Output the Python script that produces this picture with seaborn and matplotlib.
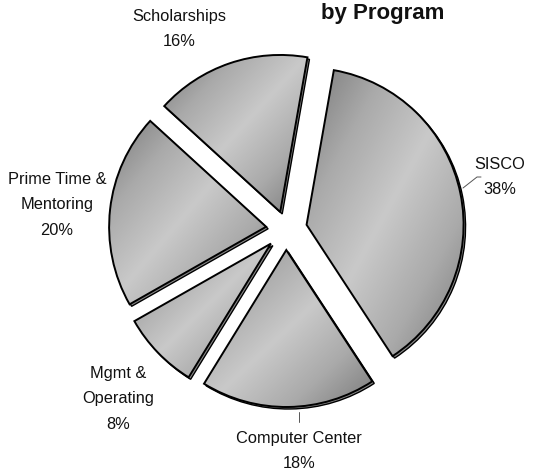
import matplotlib
matplotlib.use("Agg")
import matplotlib.pyplot as plt
import numpy as np
import seaborn as sns

programs = ["SISCO", "Computer Center", "Mgmt & Operating", "Prime Time & Mentoring", "Scholarships"]
shares = [38, 18, 8, 20, 16]

WIDTH, HEIGHT = 539, 473
CENTER = (286, HEIGHT - 229)
RADIUS = 157
# pie() adds explode to the centre as is, so these are in data units (pixels here)
EXPLODE = [21, 21, 21, 20, 18]

sns.set_theme(style="white")
plt.rcParams["font.family"] = ["Liberation Sans", "DejaVu Sans"]

fig = plt.figure(figsize=(WIDTH / 100, HEIGHT / 100), dpi=100)
ax = fig.add_axes([0, 0, 1, 1])

shade = sns.blend_palette(["#7a7a7a", "#aaaaaa", "#c9c9c9", "#aaaaaa", "#7a7a7a"],
                          n_colors=256, as_cmap=True)


def draw_pie(center, **wedge_args):
    wedges, _ = ax.pie(
        shares,
        explode=EXPLODE,
        radius=RADIUS,
        center=center,
        startangle=80,
        counterclock=False,
        frame=True,
        wedgeprops=wedge_args,
    )
    return wedges


# drop shadow, shows as a thin double line on the lower right
draw_pie((CENTER[0] + 2, CENTER[1] - 2), facecolor="#8a8a8a", edgecolor="black", linewidth=1.0, zorder=1)
wedges = draw_pie(CENTER, facecolor="none", edgecolor="black", linewidth=1.4, zorder=3)

# dark-light-dark diagonal fill, clipped to each slice
u, v = np.meshgrid(np.linspace(0, 1, 200), np.linspace(0, 1, 200))
ramp = (u + (1 - v)) / 2
for wedge in wedges:
    box = wedge.get_path().get_extents()
    im = ax.imshow(
        ramp,
        cmap=shade,
        origin="lower",
        extent=(box.x0, box.x1, box.y0, box.y1),
        aspect="auto",
        interpolation="bilinear",
        zorder=2,
    )
    im.set_clip_path(wedge)

ax.set_xlim(0, WIDTH)
ax.set_ylim(0, HEIGHT)
ax.set_aspect("equal")
ax.axis("off")


def put_label(x, y, text, size=11.8, **kwargs):
    ax.text(x, HEIGHT - y, text, ha="center", va="center", color="#111111",
            fontsize=size, linespacing=1.9, **kwargs)


put_label(500, 177, f"SISCO\n{shares[0]}%")
put_label(299, 451, f"Computer Center\n{shares[1]}%")
put_label(118, 399, f"Mgmt &\nOperating\n{shares[2]}%")
put_label(57, 205, f"Prime Time &\nMentoring\n{shares[3]}%")
put_label(179, 29, f"Scholarships\n{shares[4]}%")
put_label(383, 14, "by Program", size=16, fontweight="bold")

# leader lines
ax.plot([463, 477, 481], [HEIGHT - 188, HEIGHT - 177, HEIGHT - 177], color="#555555", lw=0.7, zorder=4)
ax.plot([299, 299], [HEIGHT - 412, HEIGHT - 422], color="#555555", lw=0.7, zorder=4)

fig.savefig("out.png", dpi=100)
